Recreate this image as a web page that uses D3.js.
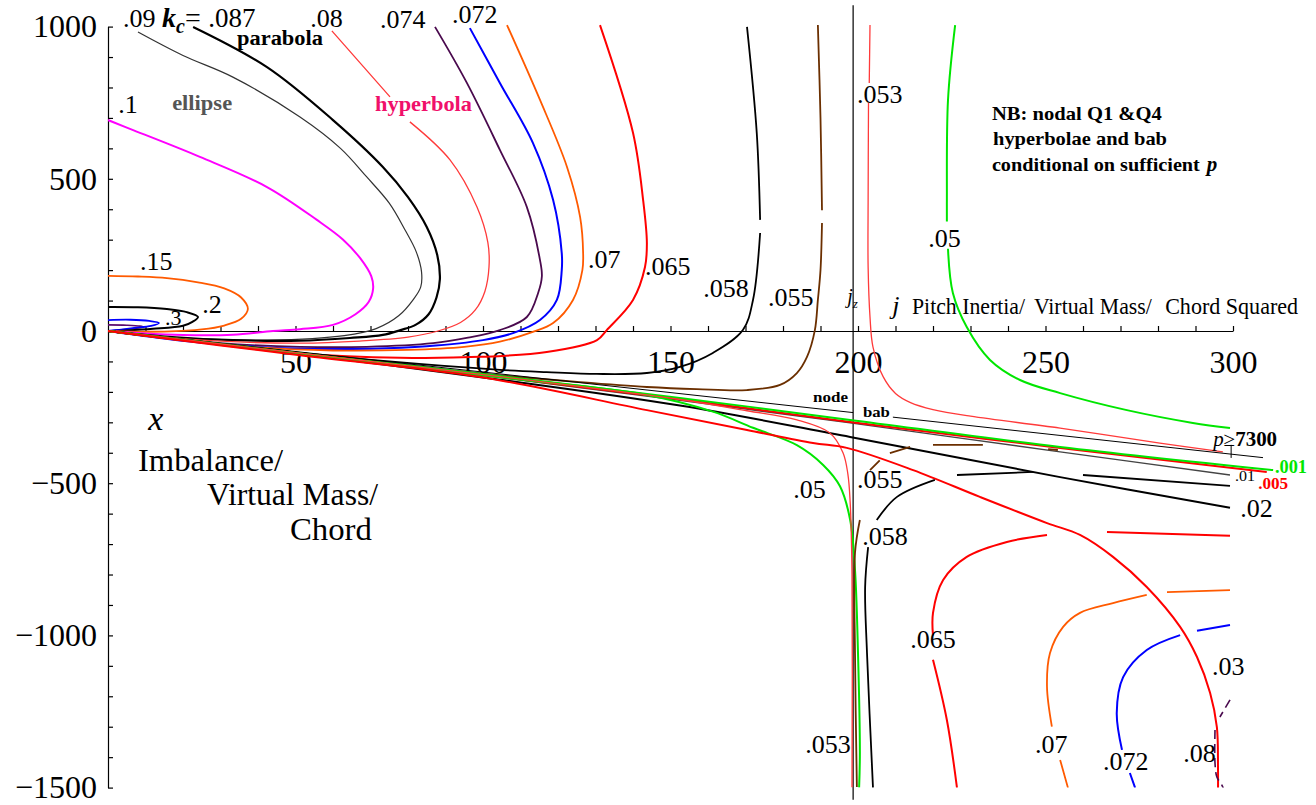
<!DOCTYPE html>
<html><head><meta charset="utf-8">
<script src="https://cdn.jsdelivr.net/npm/d3@7"></script>
<style>body{margin:0;background:#fff} svg{display:block} text{font-family:"Liberation Serif","Times New Roman",serif}</style>
</head><body><script>
// ---------- axis ticks ----------
const xTicks = d3.range(10, 301, 10);
const yTicks = d3.range(-1500, 1001, 100);
const JZ = 198.7;

// ---------- curves (j, x); null = break ----------
const kc_5   = [[0,20],[5,19],[8.5,16],[9.4,13],[7,8],[3,3],[0,0]];
const kc_3   = [[0,36],[6,37],[11,33],[13.6,26],[11.5,17],[7,10],[3,4],[0,0]];
const kc_2   = [[0,79],[8,78],[15.7,72],[21,62],[24,46],[22.5,30],[20,17],[12,7],[5,2],[0,0]];
const kc_15  = [[0,181],[8,179],[15.7,174],[24,160],[31,140],[35.5,110],[37.3,72],[35.5,40],[31,18],[25,5],[15,-2],[6,-2],[0,0]];
const kc_1   = [[0,693],[6.7,660],[24.5,572],[42.4,473],[55.7,365],[62.7,300],[67.2,240],[70.2,180],[70.7,140],[69.5,95],[66,55],[60,20],[51.2,6],[44,0],[33.3,-12],[20,-13],[8.5,-7],[0,0]];
const kc_09  = [[8,982],[20,905],[33.3,834],[51.2,703],[62,600],[69,506],[75,420],[79.3,330],[82.2,260],[83.6,195],[83.4,145],[81.5,105],[77.5,50],[71.5,8],[63,-15],[42.4,-30],[24.5,-26],[11.2,-15],[0,0]];
const kc_087 = [[22.7,999],[42.4,867],[60,693],[73.3,539],[80,440],[85,342],[87.8,250],[88.5,170],[87.6,110],[85.5,55],[82,20],[78,3],[73.3,-13],[64.5,-23],[51.2,-32],[33.3,-30],[15,-18],[0,0]];
const kc_08  = [[59.7,986],[75.2,769],null,[80.5,687],[91.2,562],[98.4,407],[101.3,290],[101.6,210],[100.5,130],[98,70],[94,28],[88,0],[80,-20],[67,-33],[51.2,-40],[33,-35],[15,-20],[0,0]];
const kc_074 = [[87.2,999],[95.7,815],[104.5,595],[111.7,407],[115.2,233],[115.7,180],[114.7,125],[111.7,46],[104.5,3],[96,-22],[86.7,-40],[69,-52],[51.2,-52],[30,-40],[12,-18],[0,0]];
const kc_072 = [[96.5,995],[104.5,815],[113.3,618],[118.7,430],[121,256],[121,200],[119.7,102],[115.2,36],[108,-7],[100,-30],[85,-50],[70,-58],[51.2,-58],[30,-44],[12,-20],[0,0]];
const kc_07  = [[106.4,1005],[115.2,759],[122.4,539],[125.9,374],[126.7,256],[126.5,200],[124,102],[118.7,26],[113.3,-3],[104.5,-35],[95,-52],[80,-62],[60,-64],[40,-54],[20,-30],[0,0]];
const kc_065 = [[131.2,1005],[140,651],[142.7,430],[143.7,289],[143.2,210],[140,102],[133,3],[130.4,-30],[117,-69],[99.2,-85],[77.9,-88],[51.2,-74],[25,-38],[0,0]];
const kc_058 = [[170.4,999],[173,651],[173.9,365],null,[173.9,322],[172,102],[169.3,3],[161.3,-72],[152.5,-118],[143.7,-138],[130.4,-141],[117,-135],[103.7,-127],[75,-100],[50,-70],[25,-35],[0,0]];
const kc_055 = [[189.3,1005],[190,700],[190.4,397],null,[190.4,355],[190,200],[189.3,102],[188.5,3],[186.4,-85],[183.7,-138],[179.2,-177],[170.4,-194],[157,-191],[143.7,-184],[125.9,-168],[100,-140],[75,-106],[50,-71],[25,-36],[0,0]];
const kc_053 = [[203.2,1005],[203,815],null,[202.8,749],[202.7,430],[202.7,210],[203.2,46],[204,-53],[206.7,-150],[210,-205],[214,-235],[220,-258],[230,-280],[253.9,-319],[280.5,-368],[297.3,-397]];
const kc_05  = [[225.9,1005],[224,759],[223.7,430],[223.7,360],null,[224,270],[225.3,125],[229,13],[235.2,-95],[243.2,-161],[253.9,-204],[271.7,-260],[289.3,-302],[299.2,-319]];
// lower / right branches
const kc_05b  = [[0,0],[51.2,-74],[104.5,-152],[143.7,-210],[161.3,-265],[172,-318],[183.7,-375],[190.7,-440],[195.2,-510],[197.9,-620],[199.2,-785],[200,-1058],[200.5,-1386],[200.3,-1500]];
const kc_053b = [[0,0],[51.2,-73],[104.5,-150],[152.5,-225],[170.4,-262],[183.7,-292],[192.5,-335],[196,-400],[197.3,-470],[197.9,-560],[198.4,-800],[198.4,-1500]];
const kc_055b = [[199.7,-1498],[199.2,-1058],[199.2,-729],[200.5,-621],null,[203.2,-457],[205.8,-425],null,[208.5,-401],[213.9,-381],null,[220,-374],[233.3,-374],null,[250.7,-388],[253.3,-391]];
const kc_058b = [[204,-1501],[202.4,-1058],[201.9,-841],[202.7,-710],null,[205,-621],[210.4,-545],[220.5,-489],null,[226.4,-473],[246.7,-463],null,[260,-473],[299.2,-509]];
const kc_065b = [[226.4,-1501],[223.7,-1278],[220,-1080],null,[220,-1000],[220,-926],[222.7,-818],[229,-742],[239.7,-693],[250.4,-670],null,[266.4,-660],[299.2,-673]];
const kc_07b  = [[256,-1501],[253.9,-1409],null,[251.7,-1300],[250.4,-1169],[251.2,-1058],[254.7,-972],[259.2,-926],[268,-894],[277,-867],null,[282.4,-858],[299.2,-851]];
const kc_072b = [[273.9,-1501],[272.5,-1452],null,[270.4,-1376],[269,-1255],[270.7,-1137],[277,-1048],[285.9,-999],null,[290.4,-985],[299.2,-966]];
const kc_08b  = [[299.2,-1212],[296.5,-1268],null,[295.2,-1311],[295.2,-1419],[295.7,-1465],[297,-1491],[298.4,-1531]];
// node / asymptote bundle
const node  = [[0,0],[198.7,-268]];
const bab   = [[209.3,-283],[308,-416]];
const pTick = [[299.5,-374],[299.5,-417]];
const kc_001 = [[0,0],[51.2,-72],[104.5,-148],[152.5,-220],[197.9,-292],[253.9,-381],[310.7,-457]];
const kc_005 = [[0,0],[51.2,-73],[104.5,-151],[152.5,-224],[197.9,-299],[253.9,-384],[309,-463]];
const kc_01  = [[0,0],[51.2,-74],[104.5,-153],[152.5,-228],[197.9,-302],[253.9,-397],[299.2,-473]];
const kc_02  = [[0,0],[51.2,-76],[104.5,-160],[152.5,-245],[197.9,-348],[253.9,-480],[299.2,-581]];
const kc_03  = [[0,0],[51.2,-80],[99.2,-151],[143.7,-260],[170.4,-325],[188,-368],[197,-384],[214.7,-457],[232.5,-545],[250.4,-631],[259.2,-670],[268,-742],[277,-841],[285.9,-972],[290.4,-1071],[293.9,-1189],[295.7,-1301],[296,-1432],[296,-1518]];

// ---------- drawing table ----------
const series = [
  {d:kc_5,  c:"#5a0a6e", w:1.6}, {d:kc_3, c:"#0000ff", w:1.8}, {d:kc_2, c:"#000", w:2},
  {d:kc_15, c:"#ff5a00", w:1.8}, {d:kc_1, c:"#ff00ff", w:2}, {d:kc_09, c:"#333", w:1.2},
  {d:kc_087,c:"#000", w:2.2}, {d:kc_08, c:"#ff3a3a", w:1.3}, {d:kc_074, c:"#4a0a4e", w:1.8},
  {d:kc_072,c:"#0000ff", w:2}, {d:kc_07, c:"#ff5a00", w:1.8}, {d:kc_065, c:"#ff0000", w:2},
  {d:kc_058,c:"#000", w:1.8}, {d:kc_055, c:"#6b2f00", w:1.8}, {d:kc_053, c:"#ff3a3a", w:1.3},
  {d:kc_05, c:"#00e600", w:2},
  {d:kc_02, c:"#000", w:2}, {d:kc_01, c:"#444", w:1.4}, {d:kc_005, c:"#ff0000", w:2}, {d:kc_001, c:"#00e600", w:2},
  {d:node, c:"#000", w:1}, {d:bab, c:"#000", w:1}, {d:pTick, c:"#000", w:1},
  {d:kc_05b, c:"#00e600", w:2}, {d:kc_053b, c:"#ff3a3a", w:1.3}, {d:kc_03, c:"#ff0000", w:2},
  {d:kc_055b, c:"#6b2f00", w:1.8}, {d:kc_058b, c:"#000", w:1.8}, {d:kc_065b, c:"#ff0000", w:2},
  {d:kc_07b, c:"#ff5a00", w:1.8}, {d:kc_072b, c:"#0000ff", w:2}, {d:kc_08b, c:"#4a0a4e", w:1.6, dash:"9,5"}
];

// ---------- annotations (data coordinates) ----------
const labels = [
  {t:".09",x:4,y:999,s:26},{t:".087",x:26.7,y:999,s:27},{t:".08",x:53.9,y:999,s:26},
  {t:".074",x:72.5,y:995,s:26},{t:".072",x:91.7,y:1012,s:26},
  {t:".1",x:2.7,y:716,s:26},{t:".15",x:8.5,y:200,s:26},{t:".2",x:25.1,y:59,s:26},{t:".3",x:15.2,y:20,s:22},
  {t:".07",x:128,y:207,s:26},{t:".065",x:143.2,y:184,s:26},{t:".058",x:158.7,y:112,s:26},{t:".055",x:176,y:82,s:26},
  {t:".053",x:199.7,y:749,s:26},{t:".05",x:218.7,y:276,s:26},
  {t:".05",x:182.7,y:-549,s:26},{t:".055",x:199.7,y:-516,s:26},{t:".058",x:201.1,y:-703,s:26},
  {t:".065",x:213.9,y:-1041,s:26},{t:".07",x:247.2,y:-1386,s:26},{t:".072",x:265.3,y:-1442,s:26},
  {t:".08",x:286.7,y:-1416,s:26},{t:".03",x:294.4,y:-1130,s:26},{t:".053",x:185.9,y:-1386,s:26},
  {t:".02",x:301.9,y:-611,s:26},
  {t:"parabola",x:34.4,y:940,s:20,b:1,len:86},
  {t:"ellipse",x:17.1,y:726,s:20,b:1,c:"#555",len:60},
  {t:"hyperbola",x:71.2,y:723,s:21,b:1,c:"#f0106a",len:97},
  {t:"NB:  nodal  Q1 &Q4",x:235.7,y:693,s:19,b:1,len:170},
  {t:"hyperbolae  and bab",x:236,y:611,s:19,b:1,len:174},
  {t:"conditional on  sufficient",x:235.7,y:526,s:19,b:1,len:208},
  {t:"Pitch Inertia/",x:214.4,y:56,s:24,len:113},
  {t:"Virtual Mass/",x:246.9,y:56,s:24,len:118},
  {t:"Chord Squared",x:281.9,y:56,s:24,len:133},
  {t:"Imbalance/",x:8,y:-460,s:32,len:145},
  {t:"Virtual Mass/",x:26.4,y:-572,s:32,len:171},
  {t:"Chord",x:48.5,y:-687,s:32,len:82},
  {t:"node",x:188,y:-233,s:15,b:1,len:35},
  {t:"bab",x:201.3,y:-283,s:15,b:1,len:27},
  {t:".001",x:311.2,y:-466,s:19,b:1,c:"#00e600",len:32},
  {t:".01",x:300.5,y:-493,s:15,len:20},
  {t:".005",x:306.7,y:-519,s:17,b:1,c:"#ff0000",len:30}
];

// ---------- chart ----------
const W = 1316, H = 805;
const x = d3.scaleLinear().domain([0, 300]).range([108, 1233]);
const y = d3.scaleLinear().domain([-1500, 1000]).range([787.6, 26.6]);

const svg = d3.select("body").append("svg").attr("width", W).attr("height", H);
svg.append("rect").attr("width", W).attr("height", H).attr("fill", "#fff");

svg.append("defs").append("clipPath").attr("id", "clip").append("rect")
  .attr("x", x(0)).attr("y", y(1012)).attr("width", x(316) - x(0)).attr("height", y(-1500) - y(1012));

const fmtY = d => d % 500 === 0 ? (d < 0 ? "\u2212" + (-d) : String(d)) : "";
const gy = svg.append("g").attr("transform", `translate(${x(0)},0)`)
  .call(d3.axisLeft(y).tickValues(yTicks).tickSize(-5).tickSizeOuter(0).tickPadding(11).tickFormat(fmtY));
const gx = svg.append("g").attr("transform", `translate(0,${y(0)})`)
  .call(d3.axisBottom(x).tickValues(xTicks).tickSize(-5).tickSizeOuter(0).tickPadding(19).tickFormat(d => d % 50 === 0 ? d : ""));
[gx, gy].forEach(g => {
  g.attr("font-size", 32).attr("font-family", "Liberation Serif");
  g.selectAll("path,line").attr("stroke", "#000").attr("stroke-width", 1.2);
});

// jz vertical line
svg.append("line").attr("x1", x(JZ)).attr("x2", x(JZ)).attr("y1", y(1070)).attr("y2", y(-1540))
  .attr("stroke", "#000").attr("stroke-width", 1.2);

const line = d3.line().defined(d => d !== null).x(d => x(d[0])).y(d => y(d[1]))
  .curve(d3.curveCatmullRom.alpha(0.5));
const plot = svg.append("g").attr("clip-path", "url(#clip)");
series.forEach(s => {
  plot.append("path").attr("d", line(s.d)).attr("fill", "none")
    .attr("stroke", s.c).attr("stroke-width", s.w)
    .attr("stroke-dasharray", s.dash || null).attr("stroke-linejoin", "round");
});

// labels
labels.forEach(l => {
  const t = svg.append("text").attr("x", x(l.x)).attr("y", y(l.y))
    .attr("font-size", l.s).attr("fill", l.c || "#000")
    .attr("font-weight", l.b ? "bold" : "normal").text(l.t);
  if (l.len) t.attr("textLength", l.len).attr("lengthAdjust", "spacingAndGlyphs");
});

// special labels
const kc = svg.append("text").attr("x", x(14.4)).attr("y", y(999)).attr("font-size", 28)
  .attr("font-weight", "bold").attr("font-style", "italic");
kc.append("tspan").text("k");
kc.append("tspan").attr("font-size", 20).attr("dy", 6).text("c");
kc.append("tspan").attr("font-style", "normal").attr("font-weight", "normal").attr("dy", -6).text("=");

const jz = svg.append("text").attr("x", x(197.1)).attr("y", y(92)).attr("font-size", 20).attr("font-style", "italic");
jz.append("tspan").text("j");
jz.append("tspan").attr("font-size", 13).attr("dy", 5).text("z");

svg.append("text").attr("x", x(209.1)).attr("y", y(56)).attr("font-size", 26).attr("font-style", "italic").text("j");
svg.append("text").attr("x", x(10.7)).attr("y", y(-325)).attr("font-size", 34).attr("font-style", "italic").text("x");

svg.append("text").attr("x", x(293)).attr("y", y(526)).attr("font-size", 21)
  .attr("font-weight", "bold").attr("font-style", "italic").text("p");

const p7 = svg.append("text").attr("x", x(294.7)).attr("y", y(-378)).attr("font-size", 20)
  .attr("textLength", 64).attr("lengthAdjust", "spacingAndGlyphs");
p7.append("tspan").attr("font-style", "italic").text("p");
p7.append("tspan").text("\u2265");
p7.append("tspan").attr("font-weight", "bold").text("7300");
</script></body></html>
